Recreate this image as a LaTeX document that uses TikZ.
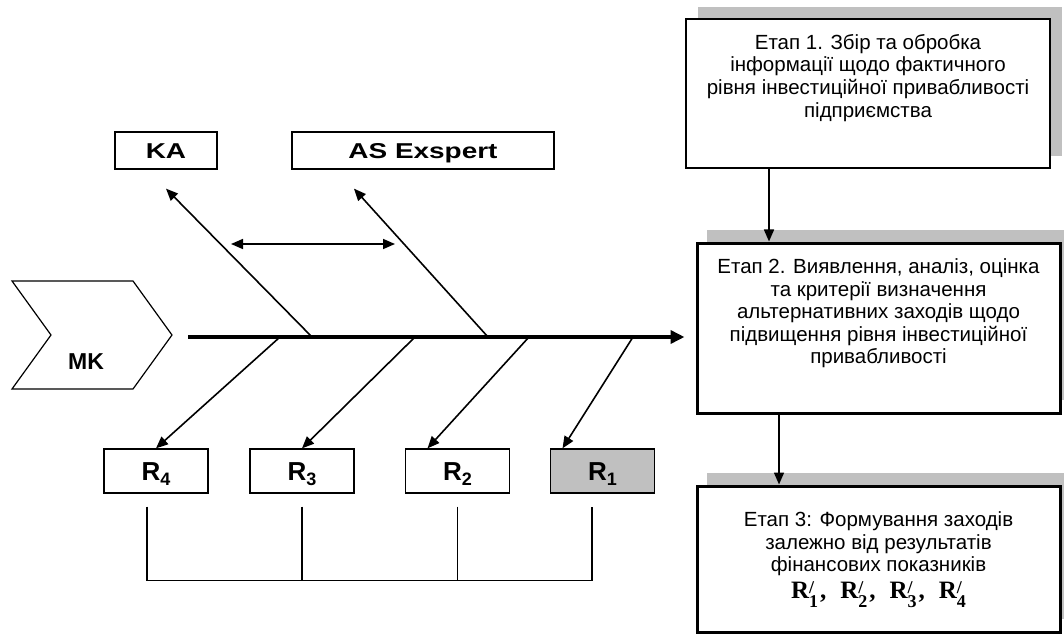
\documentclass[tikz,border=0pt]{standalone}
\usepackage{fontspec}
\setmainfont{Liberation Sans}
\newfontfamily\formfont{Liberation Serif}
\usetikzlibrary{arrows.meta,shadows,positioning,calc}
\definecolor{shadegray}{RGB}{192,192,192}
\newcommand{\widetxt}[1]{\scalebox{1.3}[1]{#1}}
\newcommand{\rsub}[1]{R\raisebox{-5pt}{\fontsize{18}{18}\selectfont #1}}
\newcommand{\rpr}[1]{R\rlap{\raisebox{5pt}{\fontsize{18}{18}\selectfont /}}\raisebox{-9pt}{\fontsize{18}{18}\selectfont #1}}
\begin{document}
\begin{tikzpicture}[x=1pt,y=-1pt]
    \tikzstyle{stage}=[draw,fill=white,line width=3pt,minimum width=363pt,inner sep=0pt]
    \tikzstyle{stagetext}=[align=center,inner sep=0pt,font=\fontsize{20.5}{22.6}\selectfont]
    \tikzstyle{tool}=[draw,line width=1.3pt,minimum height=37pt,text height=15.4pt,text depth=0pt,inner sep=0pt,font=\bfseries\fontsize{21.5}{21.5}\selectfont]
    \tikzstyle{factor}=[draw,line width=1.3pt,minimum width=104pt,minimum height=44pt,text height=19pt,text depth=0pt,inner sep=0pt,font=\bfseries\fontsize{26}{26}\selectfont]
    \tikzstyle{bone}=[line width=1.6pt,-{Triangle[length=12pt,width=10pt]}]
    \tikzstyle{spine}=[line width=3.6pt,-{Triangle[length=14pt,width=13pt]}]
    \useasboundingbox (0,0) rectangle (1064,636);
    \node[stage,line width=2pt,minimum width=364pt,minimum height=149pt,
      drop shadow={shadow xshift=12pt,shadow yshift=12pt,fill=shadegray,opacity=1}] (st1) at (868,93.5) {};
    \node[stagetext,below=16pt of st1.north] (st1txt) {Етап 1. Збір та обробка\\інформації щодо фактичного\\рівня інвестиційної привабливості\\підприємства};
    \node[stage,minimum height=170pt,
      drop shadow={shadow xshift=10pt,shadow yshift=13pt,fill=shadegray,opacity=1}] (st2) at (878.5,328) {};
    \node[stagetext,below=17pt of st2.north] (st2txt) {Етап 2. Виявлення, аналіз, оцінка\\та критерії визначення\\альтернативних заходів щодо\\підвищення рівня інвестиційної\\привабливості};
    \node[stage,minimum height=146pt,
      drop shadow={shadow xshift=10pt,shadow yshift=13pt,fill=shadegray,opacity=1}] (st3) at (878.5,559) {};
    \node[stagetext,below=27pt of st3.north] (st3txt) {Етап 3: Формування заходів\\залежно від результатів\\фінансових показників};
    \node[anchor=base,inner sep=0pt,font=\formfont\bfseries\fontsize{25}{28}\selectfont] (rset) at ([yshift=35pt]st3.south)
      {\rpr{1}\hspace{2pt},\hspace{14pt}\rpr{2}\hspace{2pt},\hspace{14pt}\rpr{3}\hspace{2pt},\hspace{14pt}\rpr{4}};
    \draw[bone] ([xshift=-99pt]st1.south) -- ([xshift=-99pt]st1.south |- st2.north);
    \draw[bone] ([xshift=-99.5pt]st2.south) -- ([xshift=-99.5pt]st2.south |- st3.north);
    \draw[line width=1.2pt] (12,281) -- (133,281) -- (172,335) -- (133,389) -- (12,389) -- (51,335) -- cycle;
    \node[font=\bfseries\fontsize{23}{23}\selectfont,inner sep=0pt] (mk) at (86,362) {MK};
    \node[tool,minimum width=102pt] (ka) at (166,150.5) {\widetxt{KA}};
    \node[tool,minimum width=262pt] (as) at (423,150.5) {\widetxt{AS Exspert}};
    \node[factor] (r4) at (156,471) {\rsub{4}};
    \node[factor] (r3) at (302,471) {\rsub{3}};
    \node[factor] (r2) at (457.5,471) {\rsub{2}};
    \node[factor,fill=shadegray] (r1) at (602.5,471) {\rsub{1}};
    \coordinate (head) at (188,337);
    \coordinate (jka) at (312,337);
    \coordinate (jas) at (488,337);
    \coordinate (j4) at (280,337);
    \coordinate (j3) at (415,337);
    \coordinate (j2) at (529,337);
    \coordinate (j1) at (633,337);
    \coordinate (linkl) at (231,244);
    \coordinate (linkr) at (395,244);
    \draw[spine,shorten >=11pt] (head) -- (head -| st2.west);
    \draw[bone] (jka) -- ([yshift=-19pt]ka.south);
    \draw[bone] (jas) -- ([xshift=-69pt,yshift=-19pt]as.south);
    \draw[bone,{Triangle[length=12pt,width=10pt]}-{Triangle[length=12pt,width=10pt]}] (linkl) -- (linkr);
    \draw[bone] (j4) -- (r4.north);
    \draw[bone] (j3) -- (r3.north);
    \draw[bone] (j2) -- ([xshift=-30pt]r2.north);
    \draw[bone] (j1) -- ([xshift=-40pt]r1.north);
    \coordinate (b4) at ([xshift=-9pt,yshift=-13pt]r4.south);
    \coordinate (b3) at ([yshift=-13pt]r3.south);
    \coordinate (b2) at ([yshift=-13pt]r2.south);
    \coordinate (b1) at ([xshift=-10.5pt,yshift=-13pt]r1.south);
    \draw[line width=1.6pt] (b4) -- ++(0,74) -- ($(b1)+(0,74)$) -- (b1);
    \foreach \b in {b3,b2}
      \draw[line width=1.6pt] (\b) -- ++(0,74);
\end{tikzpicture}
\end{document}
